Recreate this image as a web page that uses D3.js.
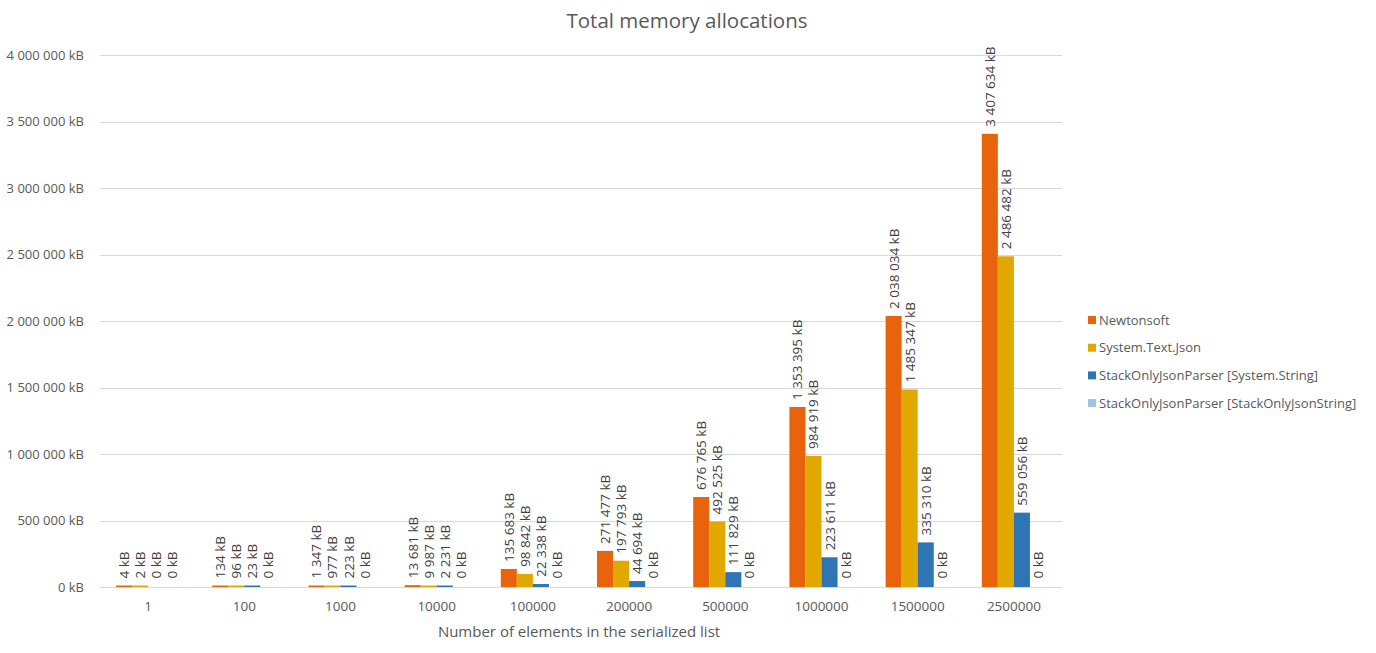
<!DOCTYPE html>
<html><head><meta charset="utf-8">
<script src="https://cdn.jsdelivr.net/npm/d3@7"></script>
<style>
body{margin:0;background:#fff;}
svg{font-family:"Open Sans","Noto Sans",sans-serif;}
</style></head>
<body><svg id="chart" width="1376" height="653"></svg>
<script>
const categories = ["1","100","1000","10000","100000","200000","500000","1000000","1500000","2500000"];
const seriesNames = ["Newtonsoft","System.Text.Json","StackOnlyJsonParser [System.String]","StackOnlyJsonParser [StackOnlyJsonString]"];
const newtonsoft = [4,134,1347,13681,135683,271477,676765,1353395,2038034,3407634];
const systemTextJson = [2,96,977,9987,98842,197793,492525,984919,1485347,2486482];
const stackOnlyString = [0,23,223,2231,22338,44694,111829,223611,335310,559056];
const stackOnlyJsonString = [0,0,0,0,0,0,0,0,0,0];
const yTicks = [0,500000,1000000,1500000,2000000,2500000,3000000,3500000,4000000];
const colors = ["#E8640C","#E0A800","#2E75B6","#9DC3E6"];

const seriesValues = [newtonsoft, systemTextJson, stackOnlyString, stackOnlyJsonString];
const svg = d3.select("#chart");
const m = {left:100, right:1062, top:55, bottom:587};
const fmt = v => d3.format(",")(v).replace(/,/g," ") + " kB";

const x0 = d3.scaleBand().domain(categories).range([m.left, m.right]).paddingInner(0).paddingOuter(0);
const x1 = d3.scaleBand().domain(seriesNames).range([16, x0.bandwidth()-16]).padding(0);
const y = d3.scaleLinear().domain([0,4000000]).range([m.bottom, m.top]);

// gridlines
svg.append("g").selectAll("line").data(yTicks).join("line")
  .attr("x1", m.left).attr("x2", m.right)
  .attr("y1", d=>Math.round(y(d))+0.5).attr("y2", d=>Math.round(y(d))+0.5)
  .attr("stroke","#d9d9d9").attr("stroke-width",1);

// y axis labels
const yAxis = d3.axisLeft(y).tickValues(yTicks).tickSize(0).tickPadding(16).tickFormat(fmt);
const ya = svg.append("g").attr("transform",`translate(${m.left},0)`).call(yAxis);
ya.select(".domain").remove();
ya.selectAll("text").attr("fill","#595959").attr("font-size","13px").attr("font-family","'Open Sans','Noto Sans',sans-serif");

// x axis labels
const xAxis = d3.axisBottom(x0).tickSize(0).tickPadding(14);
const xa = svg.append("g").attr("transform",`translate(0,${m.bottom})`).call(xAxis);
xa.select(".domain").remove();
xa.selectAll("text").attr("fill","#595959").attr("font-size","13.5px").attr("font-family","'Open Sans','Noto Sans',sans-serif");

// bars
const data = [];
categories.forEach((c,i)=>seriesNames.forEach((s,j)=>data.push({c, s, j, v: seriesValues[j][i]})));
const g = svg.append("g");
g.selectAll("rect").data(data.filter(d=>d.v>0)).join("rect")
  .attr("x", d=>x0(d.c)+x1(d.s))
  .attr("width", x1.bandwidth())
  .attr("y", d=>Math.min(y(d.v), m.bottom-1.5))
  .attr("height", d=>Math.max(m.bottom - y(d.v), 1.5))
  .attr("fill", d=>colors[d.j]);

// data labels
g.selectAll("text").data(data).join("text")
  .attr("transform", d=>{
    const cx = x0(d.c)+x1(d.s)+x1.bandwidth()/2;
    const ty = Math.min(y(d.v), m.bottom-1.5) - 7;
    return `translate(${cx+5},${ty}) rotate(-90)`;
  })
  .attr("text-anchor","start")
  .attr("fill","#404040").attr("font-size","13.5px")
  .text(d=>fmt(d.v));

// title
svg.append("text").attr("x",687).attr("y",28).attr("text-anchor","middle")
  .attr("fill","#595959").attr("font-size","20.5px").text("Total memory allocations");

// x axis title
svg.append("text").attr("x",579).attr("y",637).attr("text-anchor","middle")
  .attr("fill","#595959").attr("font-size","15px").text("Number of elements in the serialized list");

// legend
const lg = svg.append("g").attr("transform","translate(1088,320)");
seriesNames.forEach((s,i)=>{
  const row = lg.append("g").attr("transform",`translate(0,${i*27.7})`);
  row.append("rect").attr("x",0).attr("y",-4).attr("width",8).attr("height",8).attr("fill",colors[i]);
  row.append("text").attr("x",11).attr("y",4.5).attr("fill","#595959").attr("font-size","13px").text(s);
});
</script></body></html>
